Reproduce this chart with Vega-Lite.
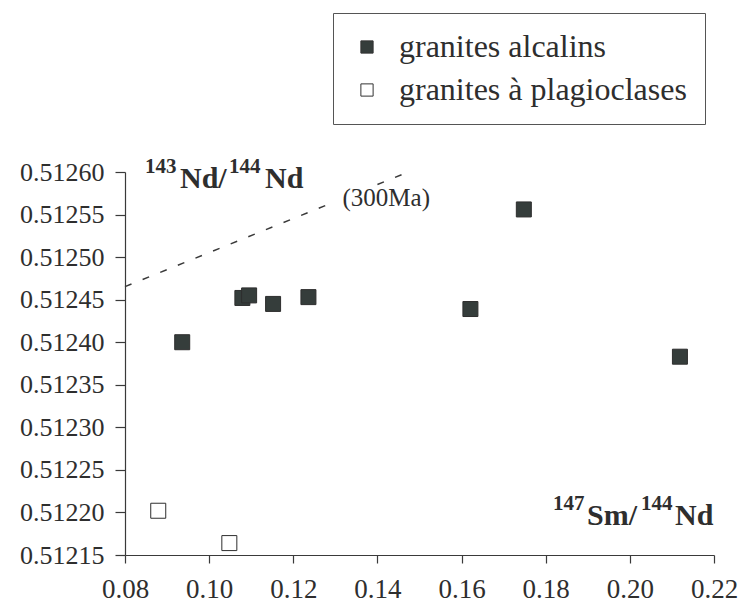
{
  "$schema": "https://vega.github.io/schema/vega-lite/v6.json",
  "width": 589,
  "height": 383,
  "autosize": {"type": "none"},
  "padding": {"left": 125, "top": 172, "right": 27, "bottom": 50},
  "background": "white",
  "config": {
    "view": {"stroke": null},
    "font": "Liberation Serif",
    "axis": {"grid": false, "domainColor": "#3a3a3a", "tickColor": "#3a3a3a", "labelColor": "#2e2e2e", "labelFont": "Liberation Serif", "domainWidth": 1.2, "tickWidth": 1.2}
  },
  "datasets": {
    "samples": [
      {"sm_nd": 0.0936, "nd_nd": 0.512400, "type": "granites alcalins"},
      {"sm_nd": 0.1079, "nd_nd": 0.512452, "type": "granites alcalins"},
      {"sm_nd": 0.1095, "nd_nd": 0.512455, "type": "granites alcalins"},
      {"sm_nd": 0.1152, "nd_nd": 0.512445, "type": "granites alcalins"},
      {"sm_nd": 0.1236, "nd_nd": 0.512453, "type": "granites alcalins"},
      {"sm_nd": 0.1621, "nd_nd": 0.512439, "type": "granites alcalins"},
      {"sm_nd": 0.1748, "nd_nd": 0.512556, "type": "granites alcalins"},
      {"sm_nd": 0.2119, "nd_nd": 0.512383, "type": "granites alcalins"},
      {"sm_nd": 0.0879, "nd_nd": 0.512202, "type": "granites à plagioclases"},
      {"sm_nd": 0.1048, "nd_nd": 0.512164, "type": "granites à plagioclases"}
    ],
    "isochron": [
      {"seg": "a", "sm_nd": 0.0800, "nd_nd": 0.5124653},
      {"seg": "a", "sm_nd": 0.1295, "nd_nd": 0.5125643},
      {"seg": "b", "sm_nd": 0.1400, "nd_nd": 0.5125853},
      {"seg": "b", "sm_nd": 0.1476, "nd_nd": 0.5126005}
    ]
  },
  "encoding": {
    "x": {
      "field": "sm_nd", "type": "quantitative",
      "scale": {"domain": [0.08, 0.22], "nice": false, "zero": false},
      "axis": {
        "title": null,
        "values": [0.08, 0.10, 0.12, 0.14, 0.16, 0.18, 0.20, 0.22],
        "format": ".2f",
        "labelFont": "Liberation Serif",
        "labelFontSize": 27,
        "tickSize": 8,
        "labelPadding": 13,
        "labelFlush": false,
        "labelOverlap": false,
        "encode": {"ticks": {"update": {"y": {"value": -8}}}}
      }
    },
    "y": {
      "field": "nd_nd", "type": "quantitative",
      "scale": {"domain": [0.51215, 0.5126], "nice": false, "zero": false},
      "axis": {
        "title": null,
        "values": [0.51215, 0.5122, 0.51225, 0.5123, 0.51235, 0.5124, 0.51245, 0.5125, 0.51255, 0.5126],
        "format": ".5f",
        "labelFont": "Liberation Serif",
        "labelFontSize": 26,
        "tickSize": 10,
        "labelPadding": 11,
        "labelFlush": false,
        "labelOverlap": false,
        "encode": {"ticks": {"update": {"x": {"value": 8}}}}
      }
    }
  },
  "layer": [
    {
      "data": {"name": "samples"},
      "mark": {"type": "point", "shape": "square", "filled": true, "size": 225, "stroke": "#2e2e2e", "strokeWidth": 1, "opacity": 1},
      "encoding": {
        "fill": {
          "field": "type", "type": "nominal",
          "scale": {"domain": ["granites alcalins", "granites à plagioclases"], "range": ["#353d3b", "#ffffff"]},
          "legend": {
            "orient": "none", "legendX": 208, "legendY": -159,
            "title": null,
            "labelFont": "Liberation Serif", "labelFontSize": 32, "labelColor": "#2e2e2e", "labelLimit": 600,
            "symbolType": "square", "symbolSize": 150, "symbolStrokeColor": "#333", "symbolStrokeWidth": 1,
            "strokeColor": "#555", "padding": 18, "rowPadding": 11, "labelOffset": 16, "symbolOffset": 0
          }
        }
      }
    },
    {
      "data": {"name": "isochron"},
      "mark": {"type": "line", "strokeDash": [7, 12], "color": "#3a3a3a", "strokeWidth": 1.5},
      "encoding": {
        "detail": {"field": "seg"}
      }
    },
    {
      "data": {"values": [{"sm_nd": 0.1317, "nd_nd": 0.51256, "t": "(300Ma)"}]},
      "mark": {"type": "text", "align": "left", "baseline": "alphabetic", "fontSize": 25, "font": "Liberation Serif", "color": "#2e2e2e"},
      "encoding": {"text": {"field": "t"}}
    },
    {
      "data": {"values": [{"sm_nd": 0.08, "nd_nd": 0.5126, "t": "143"}]},
      "mark": {"type": "text", "align": "left", "baseline": "alphabetic", "fontSize": 21, "fontWeight": "bold", "font": "Liberation Serif", "color": "#2e2e2e", "dx": 20, "dy": 1},
      "encoding": {"text": {"field": "t"}}
    },
    {
      "data": {"values": [{"sm_nd": 0.08, "nd_nd": 0.5126, "t": "Nd/"}]},
      "mark": {"type": "text", "align": "left", "baseline": "alphabetic", "fontSize": 30, "fontWeight": "bold", "font": "Liberation Serif", "color": "#2e2e2e", "dx": 55, "dy": 16},
      "encoding": {"text": {"field": "t"}}
    },
    {
      "data": {"values": [{"sm_nd": 0.08, "nd_nd": 0.5126, "t": "144"}]},
      "mark": {"type": "text", "align": "left", "baseline": "alphabetic", "fontSize": 21, "fontWeight": "bold", "font": "Liberation Serif", "color": "#2e2e2e", "dx": 104, "dy": 1},
      "encoding": {"text": {"field": "t"}}
    },
    {
      "data": {"values": [{"sm_nd": 0.08, "nd_nd": 0.5126, "t": "Nd"}]},
      "mark": {"type": "text", "align": "left", "baseline": "alphabetic", "fontSize": 30, "fontWeight": "bold", "font": "Liberation Serif", "color": "#2e2e2e", "dx": 140, "dy": 16},
      "encoding": {"text": {"field": "t"}}
    },
    {
      "data": {"values": [{"sm_nd": 0.22, "nd_nd": 0.51215, "t": "147"}]},
      "mark": {"type": "text", "align": "left", "baseline": "alphabetic", "fontSize": 21, "fontWeight": "bold", "font": "Liberation Serif", "color": "#2e2e2e", "dx": -161, "dy": -45},
      "encoding": {"text": {"field": "t"}}
    },
    {
      "data": {"values": [{"sm_nd": 0.22, "nd_nd": 0.51215, "t": "Sm/"}]},
      "mark": {"type": "text", "align": "left", "baseline": "alphabetic", "fontSize": 30, "fontWeight": "bold", "font": "Liberation Serif", "color": "#2e2e2e", "dx": -127, "dy": -30},
      "encoding": {"text": {"field": "t"}}
    },
    {
      "data": {"values": [{"sm_nd": 0.22, "nd_nd": 0.51215, "t": "144"}]},
      "mark": {"type": "text", "align": "left", "baseline": "alphabetic", "fontSize": 21, "fontWeight": "bold", "font": "Liberation Serif", "color": "#2e2e2e", "dx": -73, "dy": -45},
      "encoding": {"text": {"field": "t"}}
    },
    {
      "data": {"values": [{"sm_nd": 0.22, "nd_nd": 0.51215, "t": "Nd"}]},
      "mark": {"type": "text", "align": "left", "baseline": "alphabetic", "fontSize": 30, "fontWeight": "bold", "font": "Liberation Serif", "color": "#2e2e2e", "dx": -39, "dy": -30},
      "encoding": {"text": {"field": "t"}}
    }
  ]
}
